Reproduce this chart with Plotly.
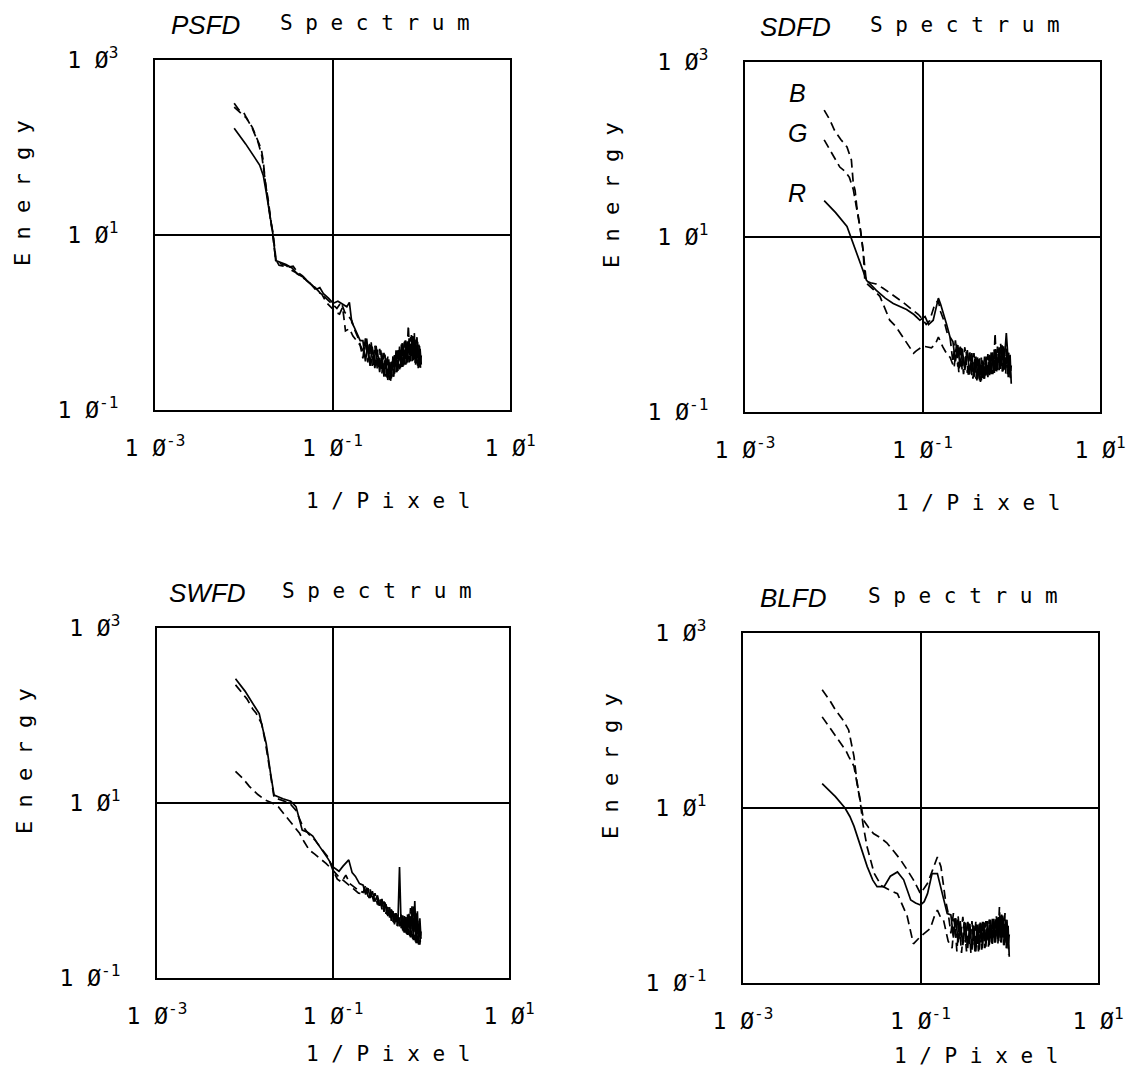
import plotly.graph_objects as go

W, H = 1141, 1090
PAGE_MARGIN = 8  # default body margin of the html page

# ---------------- data (frequency in 1/pixel, energy) ----------------
TAIL_XA = [0.22, 0.235, 0.25, 0.265, 0.28, 0.30, 0.32, 0.34, 0.36, 0.38, 0.40, 0.42, 0.44, 0.46,
           0.48, 0.50, 0.52, 0.545, 0.57, 0.595, 0.62, 0.645, 0.67, 0.70, 0.73, 0.76, 0.79, 0.82,
           0.85, 0.88, 0.91, 0.94, 0.97, 1.0]
TAIL_XB = [0.227, 0.242, 0.257, 0.272, 0.29, 0.31, 0.33, 0.35, 0.37, 0.39, 0.41, 0.43, 0.45, 0.47,
           0.49, 0.51, 0.532, 0.557, 0.582, 0.607, 0.632, 0.657, 0.685, 0.715, 0.745, 0.775, 0.805,
           0.835, 0.865, 0.895, 0.925, 0.955, 0.985]

# PSFD
PSFD_R_X = [0.0078, 0.0105, 0.0151, 0.0166, 0.018, 0.0204, 0.0214, 0.0229, 0.026, 0.030, 0.035, 0.040,
            0.047, 0.051, 0.058, 0.066, 0.072, 0.079, 0.090, 0.102, 0.115, 0.130, 0.145, 0.155, 0.165,
            0.175, 0.190, 0.205]
PSFD_R_Y = [166, 110, 63, 48, 30, 13, 10, 5.1, 4.9, 4.6, 4.2, 3.6, 3.3, 3.0, 2.7, 2.4, 2.5, 2.14, 1.9,
            1.66, 1.75, 1.6, 1.51, 1.7, 1.0, 0.89, 0.75, 0.62]
PSFD_R_T = [0.62, 0.36, 0.56, 0.32, 0.53, 0.30, 0.49, 0.27, 0.45, 0.24, 0.39, 0.22, 0.35, 0.23, 0.41,
            0.26, 0.48, 0.28, 0.53, 0.31, 0.58, 0.33, 0.62, 0.35, 0.66, 0.36, 0.70, 0.37, 0.64, 0.34,
            0.60, 0.31, 0.50, 0.33]
PSFD_G_X = [0.0078, 0.0088, 0.0100, 0.0112, 0.0125, 0.0140, 0.0158, 0.0166, 0.0175, 0.019, 0.0204,
            0.0214, 0.0229, 0.025, 0.028, 0.032, 0.036, 0.040, 0.046, 0.052, 0.058, 0.066, 0.076,
            0.085, 0.095, 0.11, 0.12, 0.13, 0.14, 0.155, 0.17, 0.19, 0.205]
PSFD_G_Y = [320, 270, 250, 200, 170, 130, 95, 70, 40, 24, 13, 10, 5.3, 4.5, 4.4, 4.3, 4.4, 3.8, 3.4,
            3.0, 2.7, 2.3, 2.1, 1.7, 1.5, 1.3, 1.25, 1.5, 0.8, 0.85, 0.7, 0.6, 0.55]
PSFD_G_T = [0.45, 0.68, 0.37, 0.61, 0.32, 0.54, 0.29, 0.48, 0.26, 0.43, 0.23, 0.38, 0.21, 0.34, 0.24,
            0.43, 0.27, 0.51, 0.30, 0.58, 0.32, 0.62, 0.34, 0.93, 0.36, 0.72, 0.37, 0.76, 0.33, 0.68,
            0.30, 0.54, 0.28]
PSFD_B_X = [0.0078, 0.0092, 0.0108, 0.0125, 0.0145, 0.016, 0.0172, 0.0185, 0.020, 0.0214, 0.0232,
            0.026, 0.030, 0.034, 0.039, 0.045, 0.050, 0.056, 0.064, 0.072, 0.080, 0.090, 0.100,
            0.112, 0.125, 0.138, 0.150, 0.165, 0.18, 0.20]
PSFD_B_Y = [290, 250, 215, 165, 115, 80, 45, 26, 15, 10.5, 5.0, 4.7, 4.5, 4.0, 3.7, 3.3, 3.1, 2.8,
            2.5, 2.2, 2.0, 1.8, 1.6, 1.45, 1.7, 1.3, 1.2, 1.05, 0.8, 0.62]
PSFD_B_T = [0.39, 0.66, 0.35, 0.60, 0.32, 0.55, 0.29, 0.50, 0.26, 0.45, 0.24, 0.41, 0.22, 0.38, 0.24,
            0.44, 0.27, 0.50, 0.29, 0.56, 0.31, 0.60, 0.33, 0.64, 0.35, 0.68, 0.36, 0.72, 0.34, 0.63,
            0.32, 0.56, 0.30, 0.42]

# SDFD
SDFD_R_X = [0.0078, 0.0105, 0.0141, 0.0158, 0.018, 0.020, 0.0234, 0.0302, 0.038, 0.0468, 0.056,
            0.0661, 0.080, 0.0933, 0.107, 0.117, 0.132, 0.142, 0.151, 0.16, 0.175, 0.186, 0.204]
SDFD_R_Y = [26, 19, 13.2, 9.5, 6.8, 5.0, 3.2, 2.45, 2.0, 1.74, 1.6, 1.48, 1.3, 1.12, 1.23, 1.0, 1.12,
            1.6, 2.0, 1.7, 1.3, 1.02, 0.72]
SDFD_R_T = [0.64, 0.38, 0.58, 0.33, 0.53, 0.30, 0.51, 0.27, 0.47, 0.25, 0.43, 0.24, 0.41, 0.23, 0.39,
            0.24, 0.43, 0.25, 0.45, 0.27, 0.48, 0.28, 0.51, 0.30, 0.55, 0.31, 0.58, 0.30, 0.55, 0.80,
            0.48, 0.27, 0.45, 0.21]
SDFD_G_X = [0.0078, 0.0095, 0.0117, 0.0135, 0.0150, 0.0166, 0.018, 0.020, 0.0214, 0.0234, 0.028,
            0.0331, 0.038, 0.0427, 0.050, 0.0603, 0.070, 0.0794, 0.085, 0.095, 0.107, 0.126, 0.140,
            0.151, 0.17, 0.186, 0.205]
SDFD_G_Y = [129, 92, 63, 56, 48, 35, 22, 12, 7.0, 2.95, 2.5, 2.1, 1.5, 1.12, 0.95, 0.72, 0.58, 0.47,
            0.5, 0.54, 0.56, 0.54, 0.6, 0.72, 0.55, 0.47, 0.42]
SDFD_G_T = [0.32, 0.60, 0.28, 0.54, 0.27, 0.49, 0.25, 0.45, 0.24, 0.41, 0.23, 0.39, 0.22, 0.37, 0.23,
            0.41, 0.25, 0.44, 0.26, 0.47, 0.27, 0.80, 0.29, 0.53, 0.30, 0.58, 0.29, 0.53, 0.27, 0.51,
            0.25, 0.43, 0.22]
SDFD_B_X = [0.0078, 0.0090, 0.0102, 0.0120, 0.0141, 0.0158, 0.0166, 0.0174, 0.0182, 0.0191, 0.020,
            0.0214, 0.0224, 0.026, 0.030, 0.036, 0.046, 0.060, 0.075, 0.090, 0.100, 0.110, 0.120,
            0.135, 0.150, 0.160, 0.175, 0.190, 0.205]
SDFD_B_Y = [282, 220, 166, 130, 107, 76, 41, 34, 22, 17, 12, 7.1, 3.2, 3.0, 2.9, 2.6, 2.2, 1.8, 1.5,
            1.3, 1.15, 1.0, 1.1, 1.6, 1.9, 1.4, 1.1, 0.8, 0.7]
SDFD_B_T = [0.37, 0.66, 0.33, 0.59, 0.30, 0.55, 0.28, 0.51, 0.26, 0.47, 0.24, 0.44, 0.23, 0.42, 0.24,
            0.43, 0.25, 0.46, 0.26, 0.49, 0.27, 0.52, 0.29, 0.56, 0.30, 0.60, 0.29, 0.58, 0.30, 0.53,
            0.27, 0.49, 0.25, 0.34]

# SWFD
SWFD_R_X = [0.0078, 0.0100, 0.0145, 0.0160, 0.0174, 0.0195, 0.0214, 0.0270, 0.0331, 0.038, 0.0447,
            0.0520, 0.0589, 0.0660, 0.0759, 0.0880, 0.100, 0.117, 0.130, 0.151, 0.165, 0.180, 0.200]
SWFD_R_Y = [263, 190, 105, 70, 48, 22, 12.3, 11.2, 10.5, 9.1, 4.9, 4.6, 4.2, 3.5, 2.9, 2.3, 1.86,
            1.66, 1.9, 2.24, 1.6, 1.45, 1.2]
SWFD_R_T = [1.15, 0.90, 1.06, 0.82, 0.98, 0.75, 0.88, 0.67, 0.80, 0.57, 0.70, 0.51, 0.64, 0.45, 0.58,
            0.41, 0.55, 0.39, 1.86, 0.37, 0.52, 0.33, 0.50, 0.31, 0.54, 0.29, 0.66, 0.27, 0.76, 0.25,
            0.58, 0.24, 0.48, 0.28]
SWFD_G_X = [0.0078, 0.0095, 0.0112, 0.0140, 0.0170, 0.0204, 0.0240, 0.0295, 0.0350, 0.0417, 0.0470,
            0.0537, 0.0620, 0.0720, 0.0832, 0.100, 0.115, 0.129, 0.150, 0.170, 0.195]
SWFD_G_Y = [23, 19, 15.5, 12.5, 10.8, 10, 9.0, 6.9, 5.6, 4.5, 3.6, 2.9, 2.6, 2.3, 2.04, 1.7, 1.45,
            1.32, 1.15, 1.05, 0.93]
SWFD_G_T = [0.92, 1.08, 0.82, 0.98, 0.75, 0.88, 0.67, 0.79, 0.59, 0.73, 0.53, 0.65, 0.47, 0.59, 0.43,
            0.55, 0.39, 0.53, 0.37, 0.49, 0.34, 0.47, 0.32, 0.51, 0.30, 0.62, 0.28, 0.68, 0.26, 0.55,
            0.25, 0.45, 0.24]
SWFD_B_X = [0.0078, 0.0090, 0.0105, 0.0123, 0.0134, 0.0155, 0.0170, 0.0190, 0.0214, 0.0260, 0.0320,
            0.0380, 0.0450, 0.0530, 0.0620, 0.0740, 0.0880, 0.100, 0.112, 0.125, 0.140, 0.155, 0.175,
            0.195]
SWFD_B_Y = [224, 185, 155, 118, 106, 80, 50, 25, 11.5, 10.8, 10.0, 8.2, 5.5, 4.4, 3.8, 3.0, 2.4, 1.7,
            1.35, 1.25, 1.5, 1.2, 1.1, 1.0]
SWFD_B_T = [0.95, 1.15, 0.85, 1.03, 0.77, 0.93, 0.69, 0.83, 0.61, 0.75, 0.54, 0.67, 0.49, 0.61, 0.44,
            0.58, 0.41, 0.53, 0.39, 0.53, 0.35, 0.51, 0.33, 0.55, 0.31, 0.63, 0.29, 0.69, 0.27, 0.53,
            0.25, 0.43, 0.24, 0.34]

# BLFD
BLFD_R_X = [0.0078, 0.0110, 0.0141, 0.0160, 0.0178, 0.0210, 0.0251, 0.0290, 0.0324, 0.0389, 0.0457,
            0.0550, 0.0646, 0.0776, 0.0880, 0.100, 0.110, 0.120, 0.135, 0.155, 0.170, 0.182, 0.200]
BLFD_R_Y = [19, 13.5, 10, 8.0, 6.2, 3.8, 2.14, 1.5, 1.26, 1.26, 1.66, 1.86, 1.51, 0.89, 0.82, 0.78,
            0.85, 1.05, 1.78, 1.78, 1.2, 0.89, 0.62]
BLFD_R_T = [0.60, 0.33, 0.55, 0.29, 0.51, 0.27, 0.49, 0.25, 0.47, 0.24, 0.45, 0.23, 0.46, 0.24, 0.48,
            0.25, 0.49, 0.26, 0.51, 0.27, 0.52, 0.28, 0.54, 0.29, 0.56, 0.30, 0.59, 0.29, 0.56, 0.27,
            0.53, 0.25, 0.45, 0.20]
BLFD_G_X = [0.0078, 0.0095, 0.0126, 0.0145, 0.0155, 0.0166, 0.0178, 0.0191, 0.0209, 0.0225, 0.025,
            0.030, 0.036, 0.045, 0.055, 0.0708, 0.0832, 0.100, 0.115, 0.129, 0.145, 0.155, 0.170,
            0.182, 0.205]
BLFD_G_Y = [110, 82, 55, 45, 39, 34, 30, 20, 12, 6.5, 3.6, 1.8, 1.3, 1.15, 1.05, 0.58, 0.28, 0.34,
            0.38, 0.42, 0.60, 0.68, 0.55, 0.52, 0.30]
BLFD_G_T = [0.25, 0.55, 0.23, 0.52, 0.22, 0.50, 0.23, 0.48, 0.22, 0.46, 0.23, 0.47, 0.23, 0.49, 0.24,
            0.50, 0.25, 0.51, 0.26, 0.53, 0.27, 0.56, 0.27, 0.59, 0.28, 0.74, 0.29, 0.59, 0.27, 0.63,
            0.25, 0.48, 0.21]
BLFD_B_X = [0.0078, 0.0095, 0.011, 0.0135, 0.0155, 0.0165, 0.0178, 0.0191, 0.0209, 0.0229, 0.0260,
            0.0295, 0.0350, 0.0417, 0.0500, 0.0589, 0.0700, 0.0832, 0.100, 0.110, 0.120, 0.130, 0.141,
            0.155, 0.170, 0.182, 0.191, 0.205]
BLFD_B_Y = [224, 170, 132, 100, 78, 55, 39, 21, 12.3, 7.2, 6.0, 5.1, 4.6, 4.0, 3.2, 2.6, 2.0, 1.51,
            1.05, 1.2, 1.38, 1.7, 2.14, 2.75, 2.14, 1.3, 0.89, 0.63]
BLFD_B_T = [0.37, 0.63, 0.33, 0.59, 0.31, 0.57, 0.29, 0.53, 0.28, 0.51, 0.27, 0.50, 0.28, 0.49, 0.29,
            0.50, 0.30, 0.51, 0.31, 0.53, 0.32, 0.54, 0.33, 0.56, 0.34, 0.59, 0.33, 0.61, 0.32, 0.59,
            0.30, 0.55, 0.27, 0.36]

PANEL_NAMES = ["PSFD", "SDFD", "SWFD", "BLFD"]
SERIES = {
    "PSFD": [(PSFD_R_X, PSFD_R_Y, TAIL_XA, PSFD_R_T, "solid"),
             (PSFD_G_X, PSFD_G_Y, TAIL_XB, PSFD_G_T, "dash"),
             (PSFD_B_X, PSFD_B_Y, TAIL_XA, PSFD_B_T, "dash")],
    "SDFD": [(SDFD_R_X, SDFD_R_Y, TAIL_XA, SDFD_R_T, "solid"),
             (SDFD_G_X, SDFD_G_Y, TAIL_XB, SDFD_G_T, "dash"),
             (SDFD_B_X, SDFD_B_Y, TAIL_XA, SDFD_B_T, "dash")],
    "SWFD": [(SWFD_R_X, SWFD_R_Y, TAIL_XA, SWFD_R_T, "solid"),
             (SWFD_G_X, SWFD_G_Y, TAIL_XB, SWFD_G_T, "dash"),
             (SWFD_B_X, SWFD_B_Y, TAIL_XA, SWFD_B_T, "dash")],
    "BLFD": [(BLFD_R_X, BLFD_R_Y, TAIL_XA, BLFD_R_T, "solid"),
             (BLFD_G_X, BLFD_G_Y, TAIL_XB, BLFD_G_T, "dash"),
             (BLFD_B_X, BLFD_B_Y, TAIL_XA, BLFD_B_T, "dash")],
}
X_TICKS = [0.001, 0.1, 10]
X_TICK_TEXT = ["1 Ø<sup>-3</sup>", "1 Ø<sup>-1</sup>", "1 Ø<sup>1</sup>"]
Y_TICKS = [0.1, 10, 1000]
Y_TICK_TEXT = ["1 Ø<sup>-1</sup>", "1 Ø<sup>1</sup>", "1 Ø<sup>3</sup>"]
CHANNEL_LABELS = ["B", "G", "R"]

# ---------------- layout (pixel boxes of each panel, in page pixels) ----------------
BOXES = [(155, 510, 60, 410), (745, 1100, 62, 412), (157, 509, 628, 978), (743, 1098, 633, 983)]
XTITLE_GAP = [91, 91, 76, 73]
MONO = "DejaVu Sans Mono"
SANS = "Liberation Sans"

FW, FH = W - PAGE_MARGIN, H - PAGE_MARGIN

fig = go.Figure()
layout = dict(width=FW, height=FH, margin=dict(l=0, r=0, t=0, b=0, autoexpand=False),
              showlegend=False, paper_bgcolor="white", plot_bgcolor="white")
annotations = []


def px(x):
    return (x - PAGE_MARGIN) / FW


def py(y):
    return 1 - (y - PAGE_MARGIN) / FH


for i, name in enumerate(PANEL_NAMES):
    sfx = "" if i == 0 else str(i + 1)
    l, r, t, b = BOXES[i]
    for hx, hy, tx, ty, dash in SERIES[name]:
        fig.add_trace(go.Scatter(
            x=hx + tx, y=hy + ty, mode="lines", xaxis="x" + sfx, yaxis="y" + sfx,
            line=dict(color="black", width=1.7, dash="solid" if dash == "solid" else "9px,5px"),
            hoverinfo="skip"))
    axcommon = dict(type="log", showline=True, mirror=True, linecolor="black", linewidth=2,
                    showgrid=True, gridcolor="black", gridwidth=1.6, zeroline=False, ticks="",
                    automargin=False,
                    tickfont=dict(family=MONO, size=23, color="black"), fixedrange=True)
    layout["xaxis" + sfx] = dict(axcommon, domain=[px(l), px(r)], anchor="y" + sfx, range=[-3, 1],
                                 tickvals=X_TICKS, ticktext=X_TICK_TEXT, ticklabelstandoff=16)
    layout["yaxis" + sfx] = dict(axcommon, domain=[py(b), py(t)], anchor="x" + sfx, range=[-1, 3],
                                 tickvals=Y_TICKS, ticktext=Y_TICK_TEXT, ticklabelstandoff=30)
    cx = (l + r) / 2
    # title
    annotations.append(dict(text="<i>" + name + "</i>", x=px(l + 50), y=py(t - 35), xref="paper",
                            yref="paper", showarrow=False, xanchor="center", yanchor="middle",
                            font=dict(family=SANS, size=26, color="black")))
    annotations.append(dict(text="S p e c t r u m", x=px(l + 220), y=py(t - 37), xref="paper",
                            yref="paper", showarrow=False, xanchor="center", yanchor="middle",
                            font=dict(family=MONO, size=21, color="black")))
    # y title
    annotations.append(dict(text="E n e r g y", x=px(l - 133), y=py(t + 133), xref="paper",
                            yref="paper", showarrow=False, textangle=-90, xanchor="center",
                            yanchor="middle", font=dict(family=MONO, size=22, color="black")))
    # x title
    annotations.append(dict(text="1 / P i x e l", x=px(cx + 55), y=py(b + XTITLE_GAP[i]),
                            xref="paper", yref="paper", showarrow=False, xanchor="center",
                            yanchor="middle", font=dict(family=MONO, size=21, color="black")))

# channel labels in the SDFD panel
for lab, yy in zip(CHANNEL_LABELS, [93, 133, 193]):
    annotations.append(dict(text="<i>" + lab + "</i>", x=px(797), y=py(yy), xref="paper", yref="paper",
                            showarrow=False, xanchor="center", yanchor="middle",
                            font=dict(family=SANS, size=25, color="black")))

layout["annotations"] = annotations
fig.update_layout(**layout)
fig.write_html("out.html")
